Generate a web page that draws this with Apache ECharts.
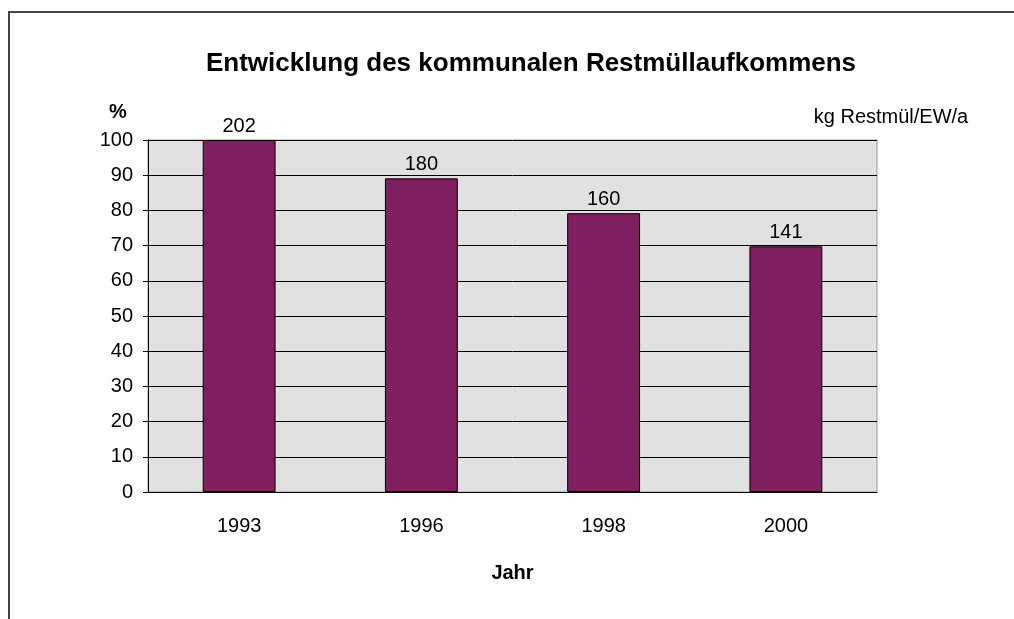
<!DOCTYPE html>
<html>
<head>
    <meta charset="utf-8" />
    <title>Restmüllaufkommen</title>
    <script src="https://cdn.jsdelivr.net/npm/echarts@6/dist/echarts.min.js"></script>
    <style>
        html, body { margin: 0; padding: 0; background: #fff; }
        #container { width: 1014px; height: 619px; }
    </style>
</head>
<body>
    <div id="container"></div>
    <script>
    // Jahre
    var years = ['1993', '1996', '1998', '2000'];
    // Anteil in % (1993 = 100)
    var percent = [100, 89.1, 79.2, 69.8];
    // kg Restmüll pro Einwohner und Jahr (Beschriftung)
    var kgPerResident = [202, 180, 160, 141];
    var yTicks = { min: 0, max: 100, interval: 10 };

    var font = '"Liberation Sans", Arial, sans-serif';
    var myChart = echarts.init(document.getElementById('container'));

    var option = {
        backgroundColor: '#fff',
        animation: false,
        title: {
            text: 'Entwicklung des kommunalen Restmüllaufkommens',
            left: 526,
            top: 46,
            textAlign: 'center',
            textStyle: { fontFamily: font, fontSize: 26, fontWeight: 'bold', color: '#000' }
        },
        grid: {
            left: 148, right: 137, top: 140, bottom: 127,
            show: true,
            backgroundColor: '#e1e1e1',
            borderColor: '#999',
            borderWidth: 1
        },
        xAxis: {
            type: 'category',
            data: years,
            name: 'Jahr',
            nameLocation: 'middle',
            nameGap: 71,
            nameTextStyle: { fontFamily: font, fontSize: 20, fontWeight: 'bold', color: '#000' },
            axisLine: { lineStyle: { color: '#000', width: 1 } },
            axisTick: { show: false },
            axisLabel: { margin: 24, fontFamily: font, fontSize: 20, color: '#000' }
        },
        yAxis: {
            type: 'value',
            min: yTicks.min,
            max: yTicks.max,
            interval: yTicks.interval,
            axisLine: { show: true, lineStyle: { color: '#000', width: 1 } },
            axisTick: { show: true, length: 5, lineStyle: { color: '#000' } },
            axisLabel: { margin: 15, fontFamily: font, fontSize: 20, color: '#000' },
            splitLine: { show: true, lineStyle: { color: '#000', width: 1 } }
        },
        series: [{
            type: 'bar',
            data: percent,
            barWidth: '40%',
            itemStyle: { color: '#801f5f', borderColor: '#000', borderWidth: 1 },
            label: {
                show: true,
                position: 'top',
                distance: 4,
                fontFamily: font,
                fontSize: 20,
                color: '#000',
                formatter: function (p) { return kgPerResident[p.dataIndex]; }
            }
        }],
        graphic: [
            {
                type: 'polyline',
                shape: { points: [[9, 619], [9, 12], [1014, 12]] },
                style: { stroke: '#444', lineWidth: 2, fill: null }
            },
            {
                type: 'text',
                x: 118, y: 112,
                style: { text: '%', font: 'bold 20px ' + font, fill: '#000', align: 'center', verticalAlign: 'middle' }
            },
            {
                type: 'text',
                x: 891, y: 117,
                style: { text: 'kg Restmül/EW/a', font: '20px ' + font, fill: '#000', align: 'center', verticalAlign: 'middle' }
            }
        ]
    };
    myChart.setOption(option);
    </script>
</body>
</html>
